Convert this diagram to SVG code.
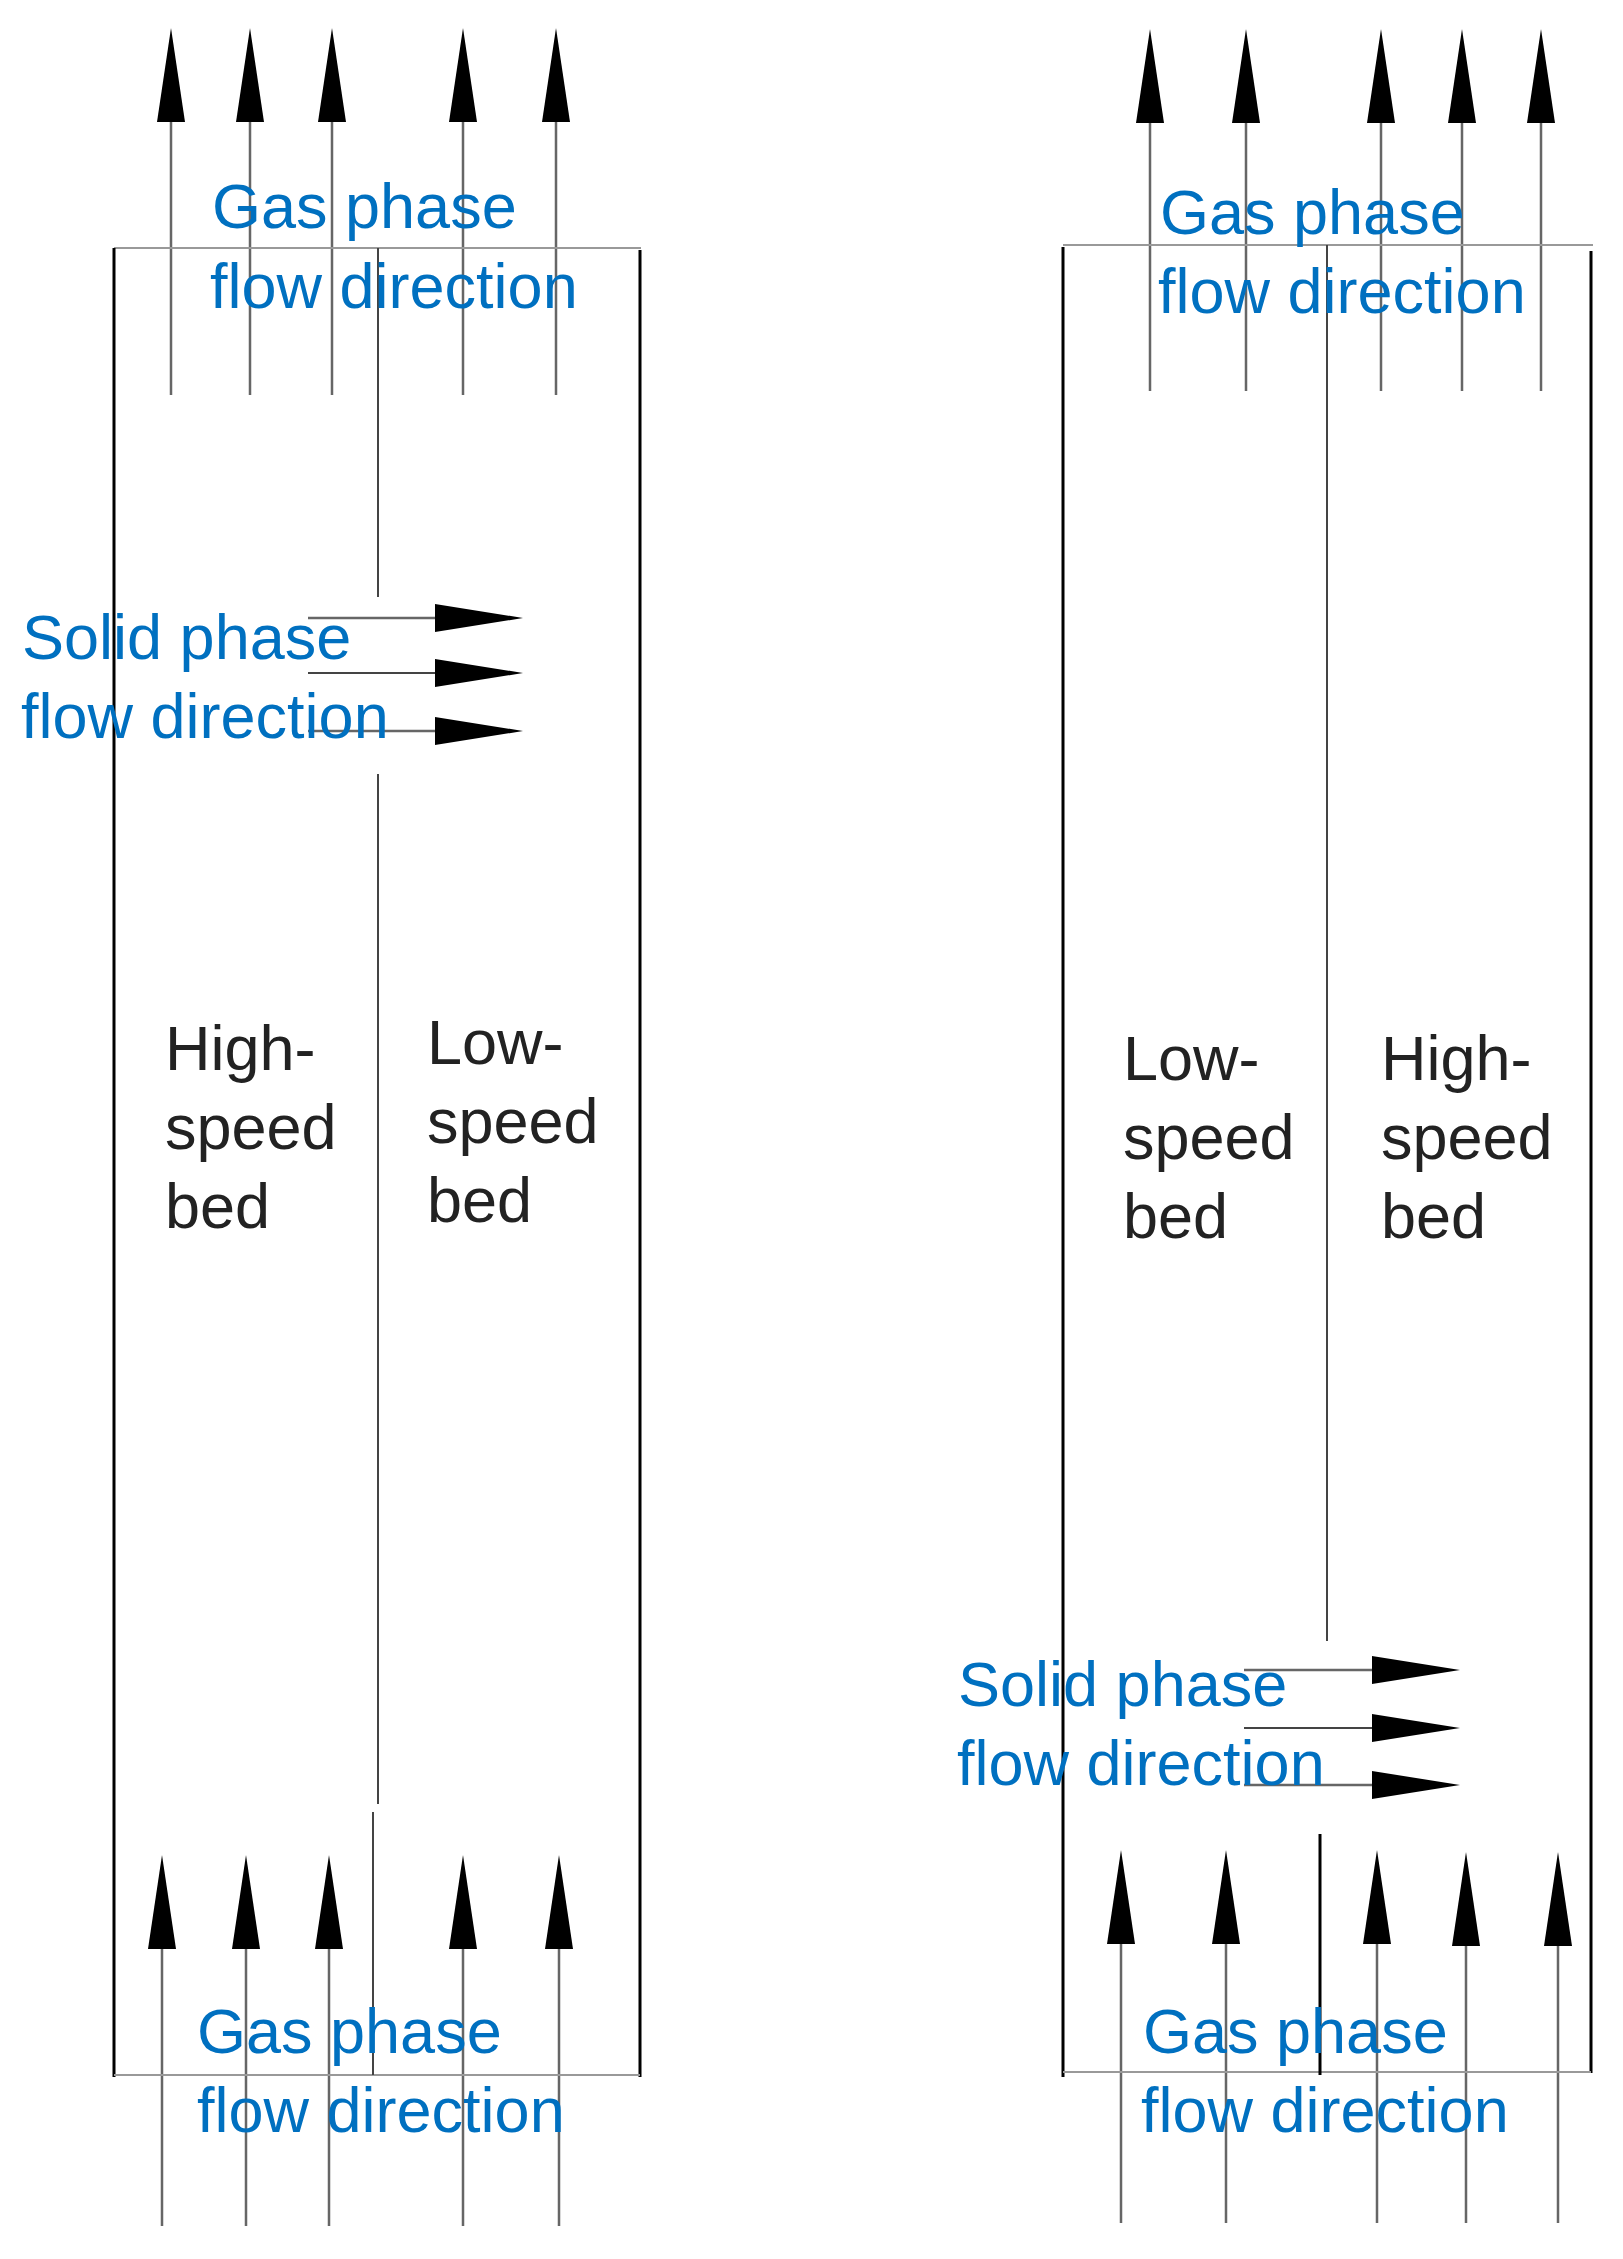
<svg xmlns="http://www.w3.org/2000/svg" width="1623" height="2259" viewBox="0 0 1623 2259">
<style>
.wall{stroke:#000;stroke-width:3;fill:none}
.rim{stroke:#999;stroke-width:2;fill:none}
.div{stroke:#444;stroke-width:2;fill:none}
.gas{stroke:#666;stroke-width:2.5;fill:none}
.head{fill:#000}
.blue{font-family:"Liberation Sans",Arial,sans-serif;font-size:63px;fill:#0070C0}
.blk{font-family:"Liberation Sans",Arial,sans-serif;font-size:63px;fill:#222}
</style>
<defs>
<path id="up" d="M0,0 L-14,94 L14,94 Z"/>
<path id="rt" d="M0,0 L-88,-14 L-88,14 Z"/>
</defs>
<rect width="1623" height="2259" fill="#fff"/>
<g id="connectors">
<!-- left panel -->
<line class="gas" x1="171" y1="120" x2="171" y2="395"/>
<line class="gas" x1="250" y1="120" x2="250" y2="395"/>
<line class="gas" x1="332" y1="120" x2="332" y2="395"/>
<line class="gas" x1="463" y1="120" x2="463" y2="395"/>
<line class="gas" x1="556" y1="120" x2="556" y2="395"/>
<use href="#up" x="171" y="28"/><use href="#up" x="250" y="28"/><use href="#up" x="332" y="28"/><use href="#up" x="463" y="28"/><use href="#up" x="556" y="28"/>
<line class="gas" x1="308" y1="618" x2="440" y2="618"/>
<line class="div" x1="308" y1="673" x2="440" y2="673"/>
<line class="gas" x1="308" y1="731" x2="440" y2="731"/>
<use href="#rt" x="523" y="618"/><use href="#rt" x="523" y="673"/><use href="#rt" x="523" y="731"/>
<line class="gas" x1="162" y1="1945" x2="162" y2="2226"/>
<line class="gas" x1="246" y1="1945" x2="246" y2="2226"/>
<line class="gas" x1="329" y1="1945" x2="329" y2="2226"/>
<line class="gas" x1="463" y1="1945" x2="463" y2="2226"/>
<line class="gas" x1="559" y1="1945" x2="559" y2="2226"/>
<use href="#up" x="162" y="1855"/><use href="#up" x="246" y="1855"/><use href="#up" x="329" y="1855"/><use href="#up" x="463" y="1855"/><use href="#up" x="559" y="1855"/>
<!-- right panel -->
<line class="gas" x1="1150" y1="120" x2="1150" y2="391"/>
<line class="gas" x1="1246" y1="120" x2="1246" y2="391"/>
<line class="gas" x1="1381" y1="120" x2="1381" y2="391"/>
<line class="gas" x1="1462" y1="120" x2="1462" y2="391"/>
<line class="gas" x1="1541" y1="120" x2="1541" y2="391"/>
<use href="#up" x="1150" y="29"/><use href="#up" x="1246" y="29"/><use href="#up" x="1381" y="29"/><use href="#up" x="1462" y="29"/><use href="#up" x="1541" y="29"/>
<line class="gas" x1="1244" y1="1670" x2="1376" y2="1670"/>
<line class="div" x1="1244" y1="1728" x2="1376" y2="1728"/>
<line class="gas" x1="1244" y1="1785" x2="1376" y2="1785"/>
<use href="#rt" x="1460" y="1670"/><use href="#rt" x="1460" y="1728"/><use href="#rt" x="1460" y="1785"/>
<line class="gas" x1="1121" y1="1940" x2="1121" y2="2223"/>
<line class="gas" x1="1226" y1="1940" x2="1226" y2="2223"/>
<line class="gas" x1="1377" y1="1940" x2="1377" y2="2223"/>
<line class="gas" x1="1466" y1="1940" x2="1466" y2="2223"/>
<line class="gas" x1="1558" y1="1940" x2="1558" y2="2223"/>
<use href="#up" x="1121" y="1850"/><use href="#up" x="1226" y="1850"/><use href="#up" x="1377" y="1850"/><use href="#up" x="1466" y="1852"/><use href="#up" x="1558" y="1852"/>
</g>
<g id="left-bed">
<line class="rim" x1="114" y1="248" x2="641" y2="248"/>
<line class="wall" x1="114" y1="248" x2="114" y2="2077"/>
<line class="wall" x1="640" y1="250" x2="640" y2="2077"/>
<line class="rim" x1="114" y1="2075" x2="640" y2="2075"/>
<line class="div" x1="378" y1="248" x2="378" y2="597"/>
<line class="div" x1="378" y1="774" x2="378" y2="1804"/>
<line class="div" x1="373" y1="1812" x2="373" y2="2075"/>
<text class="blk" x="165" y="1070">High-</text>
<text class="blk" x="165" y="1149">speed</text>
<text class="blk" x="165" y="1228">bed</text>
<text class="blk" x="427" y="1064">Low-</text>
<text class="blk" x="427" y="1143">speed</text>
<text class="blk" x="427" y="1222">bed</text>
<text class="blue" x="212" y="228">Gas phase</text>
<text class="blue" x="210" y="308">flow direction</text>
<text class="blue" x="22" y="659">Solid phase</text>
<text class="blue" x="21" y="738">flow direction</text>
<text class="blue" x="197" y="2053">Gas phase</text>
<text class="blue" x="197" y="2132">flow direction</text>
</g>
<g id="right-bed">
<line class="rim" x1="1063" y1="245" x2="1593" y2="245"/>
<line class="wall" x1="1063" y1="247" x2="1063" y2="2077"/>
<line class="wall" x1="1591" y1="251" x2="1591" y2="2073"/>
<line class="rim" x1="1063" y1="2072" x2="1591" y2="2072"/>
<line class="div" x1="1327" y1="245" x2="1327" y2="1641"/>
<line class="wall" x1="1320" y1="1834" x2="1320" y2="2075"/>
<text class="blk" x="1123" y="1080">Low-</text>
<text class="blk" x="1123" y="1159">speed</text>
<text class="blk" x="1123" y="1238">bed</text>
<text class="blk" x="1381" y="1080">High-</text>
<text class="blk" x="1381" y="1159">speed</text>
<text class="blk" x="1381" y="1238">bed</text>
<text class="blue" x="1160" y="234">Gas phase</text>
<text class="blue" x="1158" y="313">flow direction</text>
<text class="blue" x="958" y="1706">Solid phase</text>
<text class="blue" x="957" y="1785">flow direction</text>
<text class="blue" x="1143" y="2053">Gas phase</text>
<text class="blue" x="1141" y="2132">flow direction</text>
</g>
</svg>
